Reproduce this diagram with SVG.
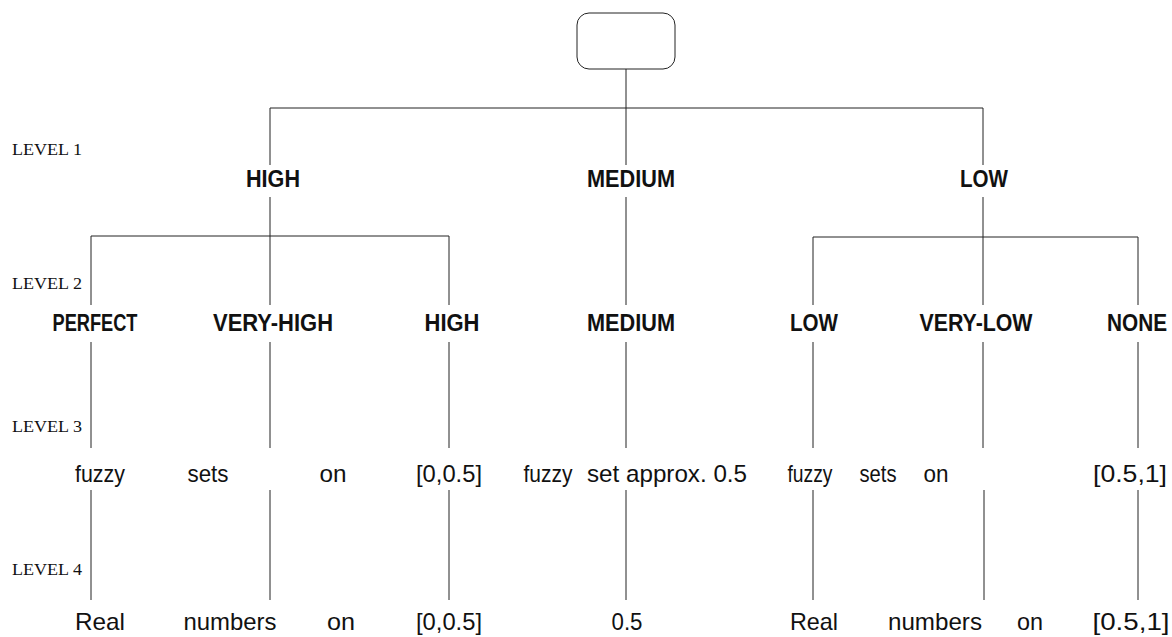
<svg xmlns="http://www.w3.org/2000/svg" width="1172" height="637" viewBox="0 0 1172 637">
<style>
.ln{stroke:#222;stroke-width:1;fill:none}
.lvl{font-family:"Liberation Serif",serif;font-size:16px;fill:#111}
.b{font-family:"Liberation Sans",sans-serif;font-weight:bold;font-size:23px;fill:#111;text-anchor:middle}
.t{font-family:"Liberation Sans",sans-serif;font-size:24px;fill:#111;text-anchor:middle}
</style>
<rect width="1172" height="637" fill="#fff"/>
<g id="root"><rect x="577" y="13" width="98" height="56" rx="12" class="ln"/></g>
<g id="connectors">
<path class="ln" d="M626 69V165M270 108H983M270 108V165M983 108V165"/>
<path class="ln" d="M270 197V305M626 197V305M983 197V305M91 236H449M91 236V305M449 236V305M813 237H1138M813 237V305M1138 237V305"/>
<path class="ln" d="M91 342V448M270 342V448M449 342V448M626 342V448M813 342V448M983 342V448M1138 342V448"/>
<path class="ln" d="M91 490V600M270 490V600M449 490V600M626 490V600M813 490V600M984 490V600M1138 490V600"/>
</g>
<g id="levels">
<text class="lvl" x="12" y="155" textLength="70" lengthAdjust="spacingAndGlyphs">LEVEL 1</text>
<text class="lvl" x="12" y="289" textLength="70" lengthAdjust="spacingAndGlyphs">LEVEL 2</text>
<text class="lvl" x="12" y="432" textLength="70" lengthAdjust="spacingAndGlyphs">LEVEL 3</text>
<text class="lvl" x="12" y="575" textLength="70" lengthAdjust="spacingAndGlyphs">LEVEL 4</text>
</g>
<g id="level1">
<text class="b" x="273" y="187" textLength="54" lengthAdjust="spacingAndGlyphs">HIGH</text>
<text class="b" x="631" y="187" textLength="88" lengthAdjust="spacingAndGlyphs">MEDIUM</text>
<text class="b" x="984" y="187" textLength="48" lengthAdjust="spacingAndGlyphs">LOW</text>
</g>
<g id="level2">
<text class="b" x="95" y="331" textLength="85" lengthAdjust="spacingAndGlyphs">PERFECT</text>
<text class="b" x="273" y="331" textLength="120" lengthAdjust="spacingAndGlyphs">VERY-HIGH</text>
<text class="b" x="452" y="331" textLength="55" lengthAdjust="spacingAndGlyphs">HIGH</text>
<text class="b" x="631" y="331" textLength="88" lengthAdjust="spacingAndGlyphs">MEDIUM</text>
<text class="b" x="814" y="331" textLength="48" lengthAdjust="spacingAndGlyphs">LOW</text>
<text class="b" x="976" y="331" textLength="113" lengthAdjust="spacingAndGlyphs">VERY-LOW</text>
<text class="b" x="1137" y="331" textLength="60" lengthAdjust="spacingAndGlyphs">NONE</text>
</g>
<g id="level3">
<text class="t" x="100" y="482" textLength="50" lengthAdjust="spacingAndGlyphs">fuzzy</text>
<text class="t" x="208" y="482" textLength="41" lengthAdjust="spacingAndGlyphs">sets</text>
<text class="t" x="333" y="482" textLength="27" lengthAdjust="spacingAndGlyphs">on</text>
<text class="t" x="449" y="482" textLength="66" lengthAdjust="spacingAndGlyphs">[0,0.5]</text>
<text class="t" x="635" y="482"><tspan x="548" textLength="49" lengthAdjust="spacingAndGlyphs">fuzzy</tspan><tspan x="667" textLength="160" lengthAdjust="spacingAndGlyphs">set approx. 0.5</tspan></text>
<text class="t" x="810" y="482" textLength="45" lengthAdjust="spacingAndGlyphs">fuzzy</text>
<text class="t" x="878" y="482" textLength="37" lengthAdjust="spacingAndGlyphs">sets</text>
<text class="t" x="936" y="482" textLength="25" lengthAdjust="spacingAndGlyphs">on</text>
<text class="t" x="1130" y="482" textLength="74" lengthAdjust="spacingAndGlyphs">[0.5,1]</text>
</g>
<g id="level4">
<text class="t" x="100" y="630" textLength="50" lengthAdjust="spacingAndGlyphs">Real</text>
<text class="t" x="230" y="630" textLength="93" lengthAdjust="spacingAndGlyphs">numbers</text>
<text class="t" x="341" y="630" textLength="28" lengthAdjust="spacingAndGlyphs">on</text>
<text class="t" x="449" y="630" textLength="66" lengthAdjust="spacingAndGlyphs">[0,0.5]</text>
<text class="t" x="627" y="630" textLength="31" lengthAdjust="spacingAndGlyphs">0.5</text>
<text class="t" x="814" y="630" textLength="48" lengthAdjust="spacingAndGlyphs">Real</text>
<text class="t" x="935" y="630" textLength="94" lengthAdjust="spacingAndGlyphs">numbers</text>
<text class="t" x="1030" y="630" textLength="26" lengthAdjust="spacingAndGlyphs">on</text>
<text class="t" x="1131" y="630" textLength="77" lengthAdjust="spacingAndGlyphs">[0.5,1]</text>
</g>
</svg>
